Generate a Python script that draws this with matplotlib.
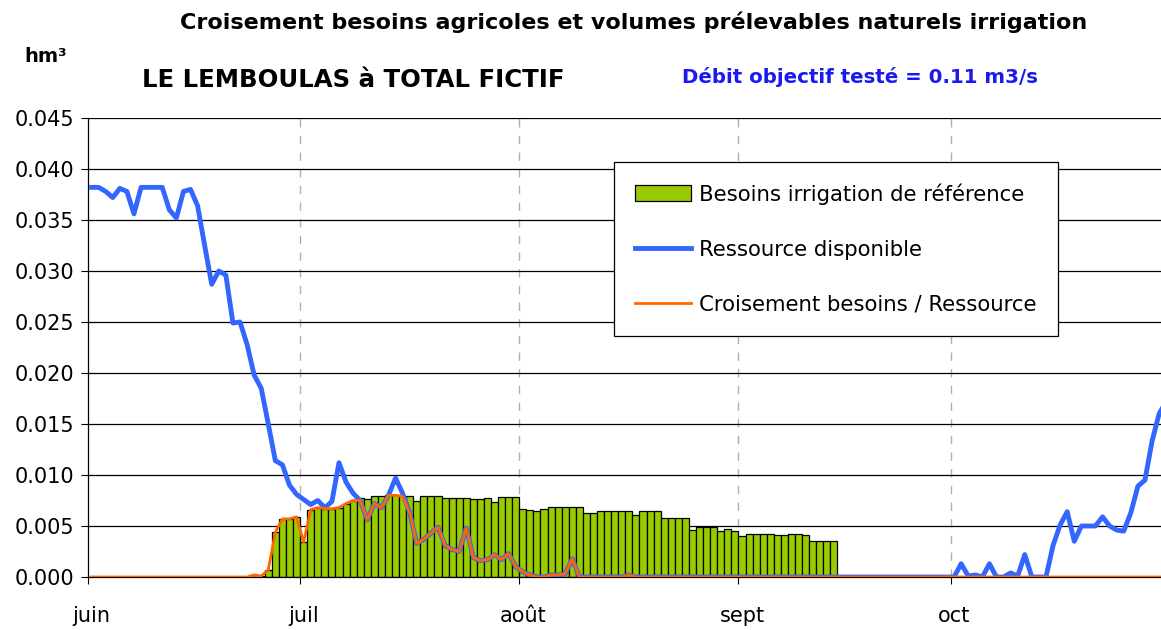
import numpy as np
import matplotlib
matplotlib.use('Agg')
import matplotlib.pyplot as plt
from matplotlib.patches import Patch
from matplotlib.lines import Line2D

# 1. Données journalières du 1er juin au 31 octobre (hm3)
ressource = [
    0.0382, 0.0382, 0.0378, 0.0372, 0.0381, 0.0378, 0.0356, 0.0382, 0.0382, 0.0382,
    0.0382, 0.0360, 0.0352, 0.0378, 0.0380, 0.0364, 0.0325, 0.0287, 0.0300, 0.0296,
    0.0249, 0.0250, 0.0228, 0.0198, 0.0185, 0.0150, 0.0114, 0.0110, 0.0090, 0.0081,
    0.0076, 0.0071, 0.0075, 0.0068, 0.0074, 0.0112, 0.0093, 0.0082, 0.0075, 0.0056,
    0.0072, 0.0068, 0.0080, 0.0097, 0.0082, 0.0063, 0.0033, 0.0037, 0.0043, 0.0049,
    0.0031, 0.0027, 0.0025, 0.0048, 0.0019, 0.0016, 0.0017, 0.0022, 0.0017, 0.0023,
    0.0010, 0.0005, 0.0002, 0.0000, 0.0000, 0.0002, 0.0002, 0.0003, 0.0018, 0.0000,
    0.0000, 0.0000, 0.0000, 0.0000, 0.0000, 0.0000, 0.0002, 0.0000, 0.0000, 0.0000,
    0.0000, 0.0000, 0.0000, 0.0000, 0.0000, 0.0000, 0.0000, 0.0000, 0.0000, 0.0000,
    0.0000, 0.0000, 0.0000, 0.0000, 0.0000, 0.0000, 0.0000, 0.0000, 0.0000, 0.0000,
    0.0000, 0.0000, 0.0000, 0.0000, 0.0000, 0.0000, 0.0000, 0.0000, 0.0000, 0.0000,
    0.0000, 0.0000, 0.0000, 0.0000, 0.0000, 0.0000, 0.0000, 0.0000, 0.0000, 0.0000,
    0.0000, 0.0000, 0.0000, 0.0013, 0.0001, 0.0002, 0.0000, 0.0013, 0.0000, 0.0000,
    0.0004, 0.0001, 0.0022, 0.0000, 0.0000, 0.0000, 0.0031, 0.0051, 0.0064, 0.0035,
    0.0050, 0.0050, 0.0050, 0.0059, 0.0050, 0.0046, 0.0045, 0.0063, 0.0089, 0.0095,
    0.0133, 0.0160, 0.0172,
]

besoins = [
    0.0, 0.0, 0.0, 0.0, 0.0, 0.0, 0.0, 0.0, 0.0, 0.0,
    0.0, 0.0, 0.0, 0.0, 0.0, 0.0, 0.0, 0.0, 0.0, 0.0,
    0.0, 0.0, 0.0, 0.0002, 0.0001, 0.0007, 0.0044, 0.0057, 0.0057, 0.0059,
    0.0034, 0.0066, 0.0068, 0.0067, 0.0067, 0.0068, 0.0072, 0.0075, 0.0077, 0.0076,
    0.0079, 0.0079, 0.0080, 0.0080, 0.0079, 0.0079, 0.0075, 0.0079, 0.0079, 0.0079,
    0.0077, 0.0077, 0.0077, 0.0077, 0.0076, 0.0076, 0.0077, 0.0074, 0.0078, 0.0078,
    0.0078, 0.0067, 0.0066, 0.0065, 0.0067, 0.0069, 0.0069, 0.0069, 0.0069, 0.0069,
    0.0063, 0.0063, 0.0065, 0.0065, 0.0065, 0.0065, 0.0065, 0.0061, 0.0065, 0.0065,
    0.0065, 0.0058, 0.0058, 0.0058, 0.0058, 0.0046, 0.0049, 0.0049, 0.0049, 0.0045,
    0.0047, 0.0045, 0.0040, 0.0042, 0.0042, 0.0042, 0.0042, 0.0041, 0.0041, 0.0042,
    0.0042, 0.0041, 0.0035, 0.0035, 0.0035, 0.0035,
] + [0.0] * 47

croisement = [
    0.0, 0.0, 0.0, 0.0, 0.0, 0.0, 0.0, 0.0, 0.0, 0.0,
    0.0, 0.0, 0.0, 0.0, 0.0, 0.0, 0.0, 0.0, 0.0, 0.0,
    0.0, 0.0, 0.0, 0.0002, 0.0001, 0.0007, 0.0044, 0.0057, 0.0057, 0.0059,
    0.0034, 0.0066, 0.0068, 0.0067, 0.0067, 0.0068, 0.0072, 0.0075, 0.0075, 0.0056,
    0.0072, 0.0068, 0.0080, 0.0080, 0.0079, 0.0063, 0.0033, 0.0037, 0.0043, 0.0049,
    0.0031, 0.0027, 0.0025, 0.0048, 0.0019, 0.0016, 0.0017, 0.0022, 0.0017, 0.0023,
    0.0010, 0.0005, 0.0002, 0.0000, 0.0000, 0.0002, 0.0002, 0.0003, 0.0018, 0.0000,
    0.0000, 0.0000, 0.0000, 0.0000, 0.0000, 0.0000, 0.0002,
] + [0.0] * 76

mois = ['juin', 'juil', 'août', 'sept', 'oct']
debut_mois = [0, 30, 61, 92, 122]

jours = np.arange(len(ressource))
besoins = np.array(besoins)

# 2. Figure
plt.rcParams['font.family'] = 'DejaVu Sans'
fig = plt.figure(figsize=(11.61, 6.30), dpi=100)
ax = fig.add_axes([88 / 1161, 53 / 630, 1073 / 1161, 459 / 630])

pos = besoins > 0
ax.bar(jours[pos], besoins[pos], width=1.0, color='#99cc00', edgecolor='black',
       linewidth=0.9, zorder=2)
ax.plot(jours, ressource, color='#3366ff', linewidth=3.5, zorder=3)
ax.plot(jours, croisement, color='#ff6600', linewidth=2.0, zorder=4)

ax.set_xlim(-0.5, -0.5 + 1073 / 7.07)
ax.set_ylim(0, 0.045)
ax.set_yticks(np.arange(0, 0.0451, 0.005))
ax.yaxis.set_major_formatter(matplotlib.ticker.FormatStrFormatter('%.3f'))
ax.tick_params(axis='y', direction='out', length=5, width=0.8, labelsize=15, pad=5)

# ticks aux limites de mois, étiquettes au 1er du mois
bornes = [d - 0.5 for d in debut_mois]
ax.set_xticks(bornes)
ax.set_xticklabels([])
ax.set_xticks(debut_mois, minor=True)
ax.set_xticklabels(mois, minor=True)
ax.tick_params(axis='x', which='major', direction='out', length=5, width=0.8)
ax.tick_params(axis='x', which='minor', length=0, labelsize=15, pad=21)

ax.grid(axis='y', color='black', linewidth=0.9)
for b in bornes[1:]:
    ax.axvline(b, color='#b0b0b0', linewidth=1.0, linestyle=(0, (6, 6)), zorder=0)
ax.set_axisbelow(True)
for s in ['top', 'right']:
    ax.spines[s].set_visible(False)
ax.spines['left'].set_linewidth(0.9)
ax.spines['bottom'].set_linewidth(0.9)

handles = [
    Patch(facecolor='#99cc00', edgecolor='black', linewidth=0.9),
    Line2D([0], [0], color='#3366ff', linewidth=3.5),
    Line2D([0], [0], color='#ff6600', linewidth=2.0),
]
labels = ['Besoins irrigation de référence', 'Ressource disponible',
          'Croisement besoins / Ressource']
leg = ax.legend(handles, labels, loc='upper left',
                bbox_to_anchor=(614 / 1161, 1 - 162 / 630), bbox_transform=fig.transFigure,
                fontsize=15.3, frameon=True, fancybox=False, framealpha=1,
                edgecolor='black', handlelength=2.6, handleheight=0.8,
                handletextpad=0.4, labelspacing=1.65, borderpad=1.0, borderaxespad=0)
leg.get_frame().set_linewidth(0.9)
leg.set_zorder(10)

# 3. Textes
fig.text(634 / 1161, 1 - 22 / 630,
         'Croisement besoins agricoles et volumes prélevables naturels irrigation',
         ha='center', va='center', fontsize=16, fontweight='bold')
fig.text(46 / 1161, 1 - 57 / 630, 'hm³', ha='center', va='center',
         fontsize=14, fontweight='bold')
fig.text(353 / 1161, 1 - 80 / 630, 'LE LEMBOULAS à TOTAL FICTIF', ha='center',
         va='center', fontsize=17.6, fontweight='bold')
fig.text(860 / 1161, 1 - 77 / 630, 'Débit objectif testé = 0.11 m3/s', ha='center',
         va='center', fontsize=14.2, fontweight='bold', color='#1a1aee')

fig.savefig('out.png', dpi=100)
